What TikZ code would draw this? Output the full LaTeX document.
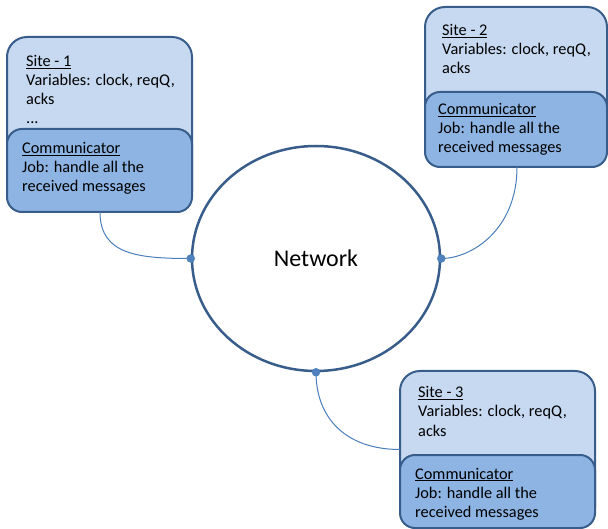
\documentclass[tikz,border=0pt]{standalone}
\usepackage{fontspec}
\setmainfont{Carlito}
\usetikzlibrary{shapes.geometric}
\definecolor{outerfill}{HTML}{C6D9F1}
\definecolor{innerfill}{HTML}{8DB4E3}
\definecolor{edgec}{HTML}{385D8A}
\definecolor{wirec}{HTML}{4A7EBB}
\definecolor{dotc}{HTML}{4F81BD}
\begin{document}
\begin{tikzpicture}[x=1pt,y=-1pt,
  sitebox/.style={draw=edgec, line width=2pt, fill=outerfill, rounded corners=20pt, anchor=north west, inner sep=0pt, outer sep=0pt},
  combox/.style={draw=edgec, line width=2pt, fill=innerfill, rounded corners=15pt, anchor=north west, inner sep=0pt, outer sep=0pt},
  txt/.style={anchor=base west, inner sep=0pt, font=\fontsize{16.3}{19.5}\selectfont, text=black},
  wire/.style={draw=wirec, line width=1pt},
  netdot/.style={circle, fill=dotc, inner sep=0pt, minimum size=8.5pt}]
\useasboundingbox (0,0) rectangle (608,529);

% Site 1
\node[sitebox, minimum width=185pt, minimum height=175pt] (s1) at (7,37) {};
\node[combox, minimum width=185pt, minimum height=83pt] (c1) at (7,129) {};
\node[txt] (s1t1) at (26,67) {\underline{Site - 1}};
\node[txt] (s1t2) at (26,86) {Variables: clock, reqQ,};
\node[txt] (s1t3) at (26,105) {acks};
\node[txt] (s1t4) at (26,124) {...};
\node[txt] (c1t1) at (22,154) {\underline{Communicator}};
\node[txt] (c1t2) at (22,173) {Job: handle all the};
\node[txt] (c1t3) at (22,192) {received messages};

% Site 2
\node[sitebox, minimum width=182pt, minimum height=160pt] (s2) at (425,7) {};
\node[combox, minimum width=182pt, minimum height=75pt] (c2) at (425,92) {};
\node[txt] (s2t1) at (442,36) {\underline{Site - 2}};
\node[txt] (s2t2) at (442,55) {Variables: clock, reqQ,};
\node[txt] (s2t3) at (442,74) {acks};
\node[txt] (c2t1) at (438,115) {\underline{Communicator}};
\node[txt] (c2t2) at (438,134) {Job: handle all the};
\node[txt] (c2t3) at (438,153) {received messages};

% Site 3
\node[sitebox, minimum width=195pt, minimum height=157pt] (s3) at (400,371) {};
\node[combox, minimum width=195pt, minimum height=73pt] (c3) at (400,455) {};
\node[txt] (s3t1) at (418,398) {\underline{Site - 3}};
\node[txt] (s3t2) at (418,417) {Variables: clock, reqQ,};
\node[txt] (s3t3) at (418,436) {acks};
\node[txt] (c3t1) at (415,479) {\underline{Communicator}};
\node[txt] (c3t2) at (415,498) {Job: handle all the};
\node[txt] (c3t3) at (415,517) {received messages};

% Network
\node[ellipse, draw=edgec, line width=2.5pt, minimum width=248pt, minimum height=225pt, inner sep=0pt, font=\fontsize{24}{28}\selectfont] (net) at (316,258.5) {Network};

% connectors
\coordinate (e1) at (net.west);
\coordinate (e2) at (net.east);
\coordinate (e3) at (net.south);
\draw[wire] ([xshift=93pt]c1.south west) .. controls +(0,43) and +(-52,0) .. (e1);
\draw[wire] ([xshift=92pt]c2.south west) .. controls +(0,63) and +(30,0) .. (e2);
\draw[wire] (e3) .. controls +(0,45) and +(-55,0) .. (s3.west);

\node[netdot] (d1) at (e1) {};
\node[netdot] (d2) at (e2) {};
\node[netdot] (d3) at (e3) {};
\end{tikzpicture}
\end{document}
